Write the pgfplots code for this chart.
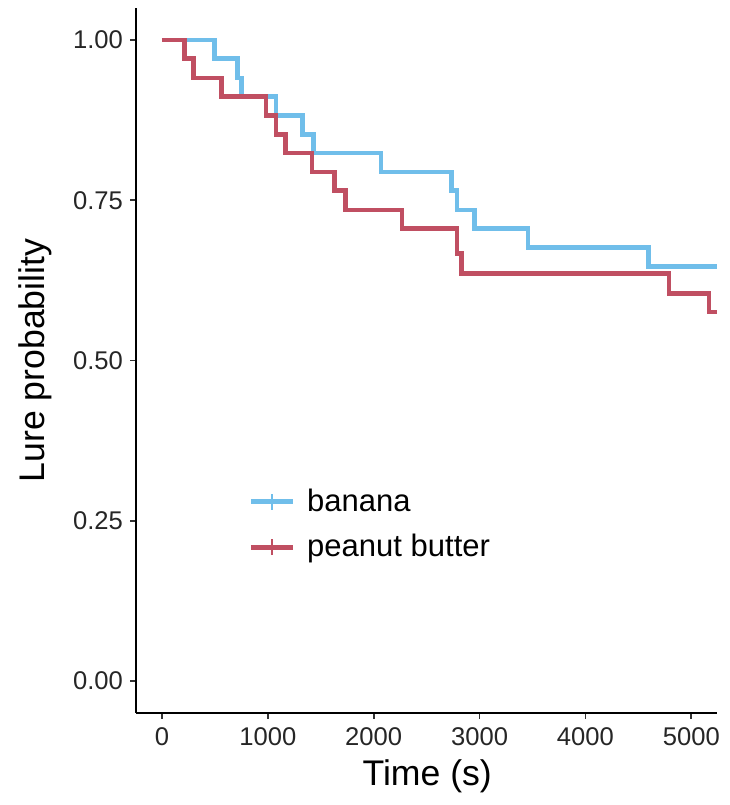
\documentclass[border=0pt]{standalone}
\usepackage{fontspec}
\setmainfont{Liberation Sans}
\usepackage{pgfplots}
\pgfplotsset{compat=1.18}
\definecolor{banana}{RGB}{112,190,234}
\definecolor{peanut}{RGB}{192,79,98}
\begin{document}
\begin{tikzpicture}
\begin{axis}[
  at={(0,0)}, anchor=south west,
  scale only axis, width=290.5pt, height=352.3pt,
  xmin=-245, xmax=5245, ymin=-0.05, ymax=1.05,
  axis x line*=bottom, axis y line*=left,
  axis line style={-, line width=1pt, black},
  tick align=outside, major tick length=3pt,
  tick style={line width=0.9pt, black!80},
  xtick={0,1000,2000,3000,4000,5000},
  ytick={0,0.25,0.5,0.75,1},
  scaled x ticks=false,
  /pgf/number format/assume math mode=true,
  xticklabel style={/pgf/number format/set thousands separator={}, font=\fontsize{12.8}{14}\selectfont, text=black!85, yshift=-1pt},
  yticklabel style={/pgf/number format/.cd, fixed, fixed zerofill, precision=2, /tikz/.cd, font=\fontsize{12.8}{14}\selectfont, text=black!85},
  xlabel={Time (s)}, ylabel={Lure probability},
  label style={font=\fontsize{17.8}{20}\selectfont},
  xlabel style={at={(axis description cs:0.501,-0.09)}, anchor=center},
  ylabel style={at={(axis description cs:-0.174,0.5)}, anchor=center, rotate=0},
  legend style={draw=none, fill=none, at={(0.193,0.324)}, anchor=north west,
    font=\fontsize{15.5}{17}\selectfont, row sep=6pt, column sep=4pt, inner sep=0pt},
  legend cell align=left,
  legend image code/.code={
    \draw[#1, line width=2.3pt] (0pt,0pt) -- (21pt,0pt);
    \draw[#1, line width=1pt] (10.5pt,-4pt) -- (10.5pt,4pt);},
  const plot,
]
\addplot[banana, line width=2.3pt] table {
x y
0 1.000
494 0.971
712 0.941
749 0.912
1077 0.882
1326 0.853
1430 0.824
2070 0.794
2732 0.765
2788 0.735
2952 0.706
3459 0.676
4593 0.647
5245 0.647
};
\addlegendentry{banana}
\addplot[peanut, line width=2.3pt] table {
x y
0 1.000
211 0.971
296 0.941
560 0.912
983 0.882
1077 0.853
1165 0.824
1418 0.794
1628 0.765
1732 0.735
2268 0.706
2788 0.667
2829 0.636
4790 0.605
5166 0.576
5245 0.576
};
\addlegendentry{peanut butter}
\end{axis}
\pgfresetboundingbox
\path (-68pt,-46pt) rectangle (296.65pt,356.35pt);
\end{tikzpicture}
\end{document}
